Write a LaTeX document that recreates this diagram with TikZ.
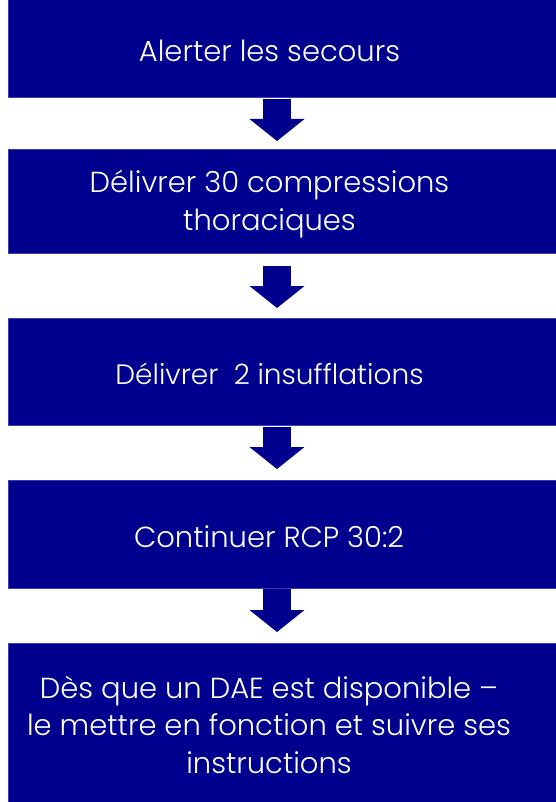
\documentclass[tikz,border=0pt]{standalone}
\usepackage{fontspec}
\setmainfont{Poppins}[UprightFont=* Light]
\usetikzlibrary{arrows.meta}
\definecolor{navy}{RGB}{0,0,143}
\definecolor{navyedge}{RGB}{60,60,180}
\tikzset{
  box/.style={rectangle, fill=navy, draw=navyedge, line width=0.6pt, minimum width=548pt, inner sep=0pt, outer sep=0pt},
  txt/.style={text=white, font=\fontsize{29}{37.5}\selectfont, align=center, inner sep=0pt, anchor=base},
  flow/.style={draw=navy, line width=28pt, -{Triangle[width=55pt,length=22pt,line width=0pt]}}
}
\begin{document}
\begin{tikzpicture}[x=1pt,y=-1pt]
\useasboundingbox (0,0) rectangle (556,802);
\fill[white] (0,0) rectangle (556,802);
\node[box, minimum height=99pt] (b1) at (282,47.5) {};
\node[box, minimum height=104pt] (b2) at (282,201) {};
\node[box, minimum height=107pt] (b3) at (282,371.5) {};
\node[box, minimum height=108pt] (b4) at (282,534) {};
\node[box, minimum height=163pt] (b5) at (282,724.5) {};
\node[txt] (t1) at (269.5,62) {Alerter les secours};
\node[txt] (t2) at (269.5,230) {Délivrer 30 compressions\\thoraciques};
\node[txt, font=\fontsize{28}{37}\selectfont] (t3) at (269.5,384) {Délivrer~~2 insufflations};
\node[txt] (t4) at (269,547) {Continuer RCP 30:2};
\node[txt] (t5) at (269,773) {Dès que un DAE est disponible –\\le mettre en fonction et suivre ses\\instructions};
\draw[flow, shorten <=2pt, shorten >=8pt] ([xshift=-5pt]b1.south) -- ([xshift=-5pt]b2.north);
\draw[flow, shorten <=13pt, shorten >=10pt] ([xshift=-5pt]b2.south) -- ([xshift=-5pt]b3.north);
\draw[flow, shorten <=2pt, shorten >=11pt] ([xshift=-5pt]b3.south) -- ([xshift=-5pt]b4.north);
\draw[flow, shorten <=1pt, shorten >=11pt] ([xshift=-5pt]b4.south) -- ([xshift=-5pt]b5.north);
\end{tikzpicture}
\end{document}
